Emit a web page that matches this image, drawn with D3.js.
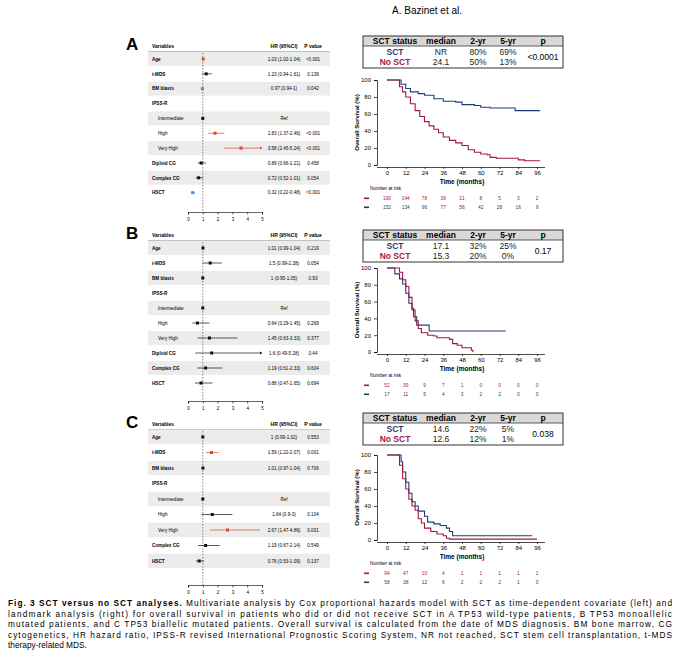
<!DOCTYPE html><html><head><meta charset="utf-8"><script src="https://cdn.jsdelivr.net/npm/d3@7"></script>
<style>body{margin:0;background:#fff}text{font-family:"Liberation Sans",Arial,sans-serif}</style></head><body><svg id="c" width="680" height="662"></svg>
<script>
const ticksHR=[0,1,2,3,4,5];
const ticksT=[0,12,24,36,48,60,72,84,96];
const ticksS=[0,20,40,60,80,100];
// forest: [label, indent, hr, lo, hi, text, p, color]
const forestA=[["Age",0,1.03,1.02,1.04,"1.03 (1.02-1.04)","<0.001","r"],["t-MDS",0,1.23,0.94,1.61,"1.23 (0.94-1.61)","0.139","k"],["BM blasts",0,0.97,0.94,1,"0.97 (0.94-1)","0.042","b"],["IPSS-R",0,null,null,null,"","",""],["Intermediate",1,1,1,1,"Ref","","k"],["High",1,1.83,1.37,2.46,"1.83 (1.37-2.46)","<0.001","r"],["Very High",1,3.58,2.45,5.24,"3.58 (2.45-5.24)","<0.001","r"],["Diploid CG",0,0.89,0.66,1.21,"0.89 (0.66-1.21)","0.458","k"],["Complex CG",0,0.72,0.52,1.01,"0.72 (0.52-1.01)","0.054","k"],["HSCT",0,0.32,0.22,0.48,"0.32 (0.22-0.48)","<0.001","b"]];
const forestB=[["Age",0,1.01,0.99,1.04,"1.01 (0.99-1.04)","0.219","k"],["t-MDS",0,1.5,0.99,2.28,"1.5 (0.99-2.28)","0.054","k"],["BM blasts",0,1,0.95,1.05,"1 (0.95-1.05)","0.93","k"],["IPSS-R",0,null,null,null,"","",""],["Intermediate",1,1,1,1,"Ref","","k"],["High",1,0.64,0.29,1.45,"0.64 (0.29-1.45)","0.269","k"],["Very High",1,1.45,0.63,3.33,"1.45 (0.63-3.33)","0.377","k"],["Diploid CG",0,1.6,0.49,5.28,"1.6 (0.49-5.28)","0.44","k"],["Complex CG",0,1.19,0.61,2.33,"1.19 (0.61-2.33)","0.604","k"],["HSCT",0,0.88,0.47,1.65,"0.88 (0.47-1.65)","0.694","k"]];
const forestC=[["Age",0,1,0.99,1.02,"1 (0.99-1.02)","0.553","k"],["t-MDS",0,1.59,1.22,2.07,"1.59 (1.22-2.07)","0.001","r"],["BM blasts",0,1.01,0.97,1.04,"1.01 (0.97-1.04)","0.706","k"],["IPSS-R",0,null,null,null,"","",""],["Intermediate",1,1,1,1,"Ref","","k"],["High",1,1.64,0.9,3,"1.64 (0.9-3)","0.104","k"],["Very High",1,2.67,1.47,4.86,"2.67 (1.47-4.86)","0.001","r"],["Complex CG",0,1.19,0.67,2.14,"1.19 (0.67-2.14)","0.549","k"],["HSCT",0,0.76,0.53,1.09,"0.76 (0.53-1.09)","0.137","k"]];
// KM: [time, survival%]
const kmA_sct=[[0,100],[7,100],[9,95],[12,90],[15,86],[20,84],[24,82],[30,78],[36,75],[44,74],[48,71],[56,70],[60,68],[66,67],[80,67],[82,64],[98,64]];
const kmA_no=[[0,100],[6,100],[8,92],[10,86],[12,80],[15,72],[18,64],[21,57],[24,51],[27,46],[30,42],[33,38],[36,33],[40,29],[44,26],[48,23],[52,18],[56,15],[60,13],[64,12],[66,9],[70,8],[80,8],[84,6],[88,5],[98,5]];
const kmB_sct=[[0,100],[3,100],[5,93],[8,87],[10,81],[12,70],[14,58],[16,52],[17,42],[19,32],[26,32],[27,25],[76,25]];
const kmB_no=[[0,100],[6,100],[8,95],[10,86],[12,78],[14,65],[16,50],[18,37],[20,28],[22,23],[26,20],[30,19],[32,17],[40,15],[42,10],[45,8],[48,5],[52,5],[54,2],[55,0]];
const kmC_sct=[[0,100],[7,100],[9,92],[10,80],[12,68],[14,55],[16,45],[18,40],[20,34],[24,28],[26,21],[30,19],[34,17],[38,14],[40,10],[42,5],[93,5]];
const kmC_no=[[0,100],[7,100],[8,88],[10,72],[12,60],[14,48],[16,40],[18,35],[20,25],[22,20],[24,14],[28,10],[32,7],[36,5],[38,2],[40,1],[96,1]];
const riskA_no=[190,144,78,39,21,8,5,3,2], riskA_sct=[152,134,96,77,56,42,28,16,9];
const riskB_no=[52,39,9,7,1,0,0,0,0], riskB_sct=[17,11,5,4,3,2,2,0,0];
const riskC_no=[94,47,10,4,1,1,1,1,1], riskC_sct=[58,38,12,6,2,2,2,1,0];
const tableA=[["SCT","NR","80%","69%"],["No SCT","24.1","50%","13%"]], pA="<0.0001";
const tableB=[["SCT","17.1","32%","25%"],["No SCT","15.3","20%","0%"]], pB="0.17";
const tableC=[["SCT","14.6","22%","5%"],["No SCT","12.6","12%","1%"]], pC="0.038";
const caption=["SCT versus no SCT analyses. Multivariate analysis by Cox proportional hazards model with SCT as time-dependent covariate (left) and","landmark analysis (right) for overall survival in patients who did or did not receive SCT in A TP53 wild-type patients, B TP53 monoallelic","mutated patients, and C TP53 biallelic mutated patients. Overall survival is calculated from the date of MDS diagnosis. BM bone marrow, CG","cytogenetics, HR hazard ratio, IPSS-R revised International Prognostic Scoring System, NR not reached, SCT stem cell transplantation, t-MDS","therapy-related MDS."];

const SCT="#1f3c78", NO="#a3173f";
const col={r:"#e0452b",b:"#4a8fd0",k:"#111"};
const svg=d3.select("#c");
svg.append("text").attr("x",392).attr("y",14).attr("font-size",10).text("A. Bazinet et al.");

function forest(letter,data,top,step,axisY){
  const g=svg.append("g");
  g.append("text").attr("x",126).attr("y",top+5).attr("font-size",17).attr("font-weight","bold").text(letter);
  const x=d3.scaleLinear().domain([0,5]).range([188,262]);
  g.append("text").attr("x",152).attr("y",top+3).attr("font-size",5).attr("font-weight","bold").text("Variables");
  g.append("text").attr("x",284).attr("y",top+3).attr("font-size",5).attr("font-weight","bold").attr("text-anchor","middle").text("HR (95%CI)");
  g.append("text").attr("x",313).attr("y",top+3).attr("font-size",5).attr("font-weight","bold").attr("text-anchor","middle").text("P value");
  g.append("line").attr("x1",148).attr("x2",330).attr("y1",top+7).attr("y2",top+7).attr("stroke","#666").attr("stroke-width",0.8);
  const y0=top+14;
  data.forEach((d,i)=>{
    const cy=y0+i*step;
    if(i%2==0) g.append("rect").attr("x",148).attr("y",cy-step/2+0.5).attr("width",182).attr("height",step-1).attr("fill","#ececec");
  });
  g.append("line").attr("x1",x(1)).attr("x2",x(1)).attr("y1",top+8).attr("y2",axisY).attr("stroke","#333").attr("stroke-width",0.6).attr("stroke-dasharray","1.5,1.5");
  data.forEach((d,i)=>{
    const cy=y0+i*step;
    g.append("text").attr("x",d[1]?158:152).attr("y",cy+1.7).attr("font-size",4.6).attr("font-weight",d[1]?"normal":"bold").text(d[0]);
    g.append("text").attr("x",284).attr("y",cy+1.7).attr("font-size",4.6).attr("text-anchor","middle").text(d[5]);
    g.append("text").attr("x",313).attr("y",cy+1.7).attr("font-size",4.6).attr("text-anchor","middle").text(d[6]);
    if(d[2]!=null){
      const c=col[d[7]];
      g.append("line").attr("x1",x(d[3])).attr("x2",x(Math.min(d[4],5))).attr("y1",cy).attr("y2",cy).attr("stroke",c).attr("stroke-width",0.7);
      if(d[4]>5) g.append("path").attr("d",`M${x(5)-2},${cy-1.5}L${x(5)},${cy}L${x(5)-2},${cy+1.5}Z`).attr("fill",c);
      g.append("rect").attr("x",x(d[2])-1.5).attr("y",cy-1.5).attr("width",3).attr("height",3).attr("fill",c);
    }
  });
  const ax=g.append("g").attr("transform",`translate(0,${axisY})`).call(d3.axisBottom(x).tickValues(ticksHR).tickFormat(d3.format("d")).tickSize(2.5));
  ax.selectAll("text").attr("font-size",4.5);ax.selectAll("line,path").attr("stroke-width",0.6);
}
forest("A",forestA,45,14.85,212);
forest("B",forestB,234,15,401);
forest("C",forestC,423,15.5,585);

function km(tbl,p,sct,no,rs,rn,top,plotTop,plotBot){
  const g=svg.append("g");
  const tx=363,tw=200;
  g.append("rect").attr("x",tx).attr("y",top).attr("width",tw).attr("height",10).attr("fill","#d9d9d9");
  g.append("rect").attr("x",tx).attr("y",top).attr("width",tw).attr("height",32).attr("fill","none").attr("stroke","#333").attr("stroke-width",1);
  g.append("line").attr("x1",tx).attr("x2",tx+tw).attr("y1",top+10).attr("y2",top+10).attr("stroke","#333").attr("stroke-width",0.8);
  const cx=[395,441,478,508,543];
  ["SCT status","median","2-yr","5-yr","p"].forEach((h,i)=>g.append("text").attr("x",cx[i]).attr("y",top+8).attr("font-size",8.5).attr("font-weight","bold").attr("text-anchor","middle").text(h));
  tbl.forEach((r,j)=>r.forEach((v,i)=>g.append("text").attr("x",cx[i]).attr("y",top+18.5+j*10).attr("font-size",8.5).attr("text-anchor","middle").attr("font-weight",i==0?"bold":"normal").attr("fill",i==0?(j==0?SCT:NO):"#222").text(v)));
  g.append("text").attr("x",cx[4]).attr("y",top+24).attr("font-size",8.5).attr("text-anchor","middle").text(p);
  const x=d3.scaleLinear().domain([0,96]).range([387,537]);
  const y=d3.scaleLinear().domain([0,100]).range([plotBot,plotTop]);
  const ya=g.append("g").attr("transform","translate(377,0)").call(d3.axisLeft(y).tickValues(ticksS).tickSize(3));
  const xa=g.append("g").attr("transform",`translate(0,${plotBot+2})`).call(d3.axisBottom(x).tickValues(ticksT).tickSize(2).tickPadding(2));
  [ya,xa].forEach(a=>{a.selectAll("text").attr("font-size",6);a.selectAll("path,line").attr("stroke-width",0.7);});
  xa.select("path").attr("d",`M377,0.5H545`);
  g.append("text").attr("transform",`translate(359,${(plotTop+plotBot)/2}) rotate(-90)`).attr("text-anchor","middle").attr("font-size",6).attr("font-weight","bold").text("Overall Survival (%)");
  g.append("text").attr("x",462).attr("y",plotBot+19).attr("text-anchor","middle").attr("font-size",6.5).attr("font-weight","bold").text("Time (months)");
  const line=d3.line().x(d=>x(d[0])).y(d=>y(d[1])).curve(d3.curveStepAfter);
  g.append("path").attr("d",line(sct)).attr("fill","none").attr("stroke",SCT).attr("stroke-width",1.1);
  g.append("path").attr("d",line(no)).attr("fill","none").attr("stroke",NO).attr("stroke-width",1.1);
  g.append("text").attr("x",370).attr("y",plotBot+25).attr("font-size",4.8).text("Number at risk");
  [[rn,NO,plotBot+35],[rs,SCT,plotBot+44]].forEach(([r,c,yy])=>{
    g.append("rect").attr("x",364).attr("y",yy-2.5).attr("width",5).attr("height",1.6).attr("fill",c);
    r.forEach((v,i)=>g.append("text").attr("x",x(ticksT[i])).attr("y",yy).attr("font-size",4.8).attr("fill",c).attr("text-anchor","middle").text(v));
  });
}
km(tableA,pA,kmA_sct,kmA_no,riskA_sct,riskA_no,36,80,165);
km(tableB,pB,kmB_sct,kmB_no,riskB_sct,riskB_no,230,268,352);
km(tableC,pC,kmC_sct,kmC_no,riskC_sct,riskC_no,413,455,540);

const cap=svg.append("g");
caption.forEach((l,i)=>{
  const t=cap.append("text").attr("x",8).attr("y",606+i*10.5).attr("font-size",8.3);
  if(i==0){t.append("tspan").attr("font-weight","bold").text("Fig. 3   SCT versus no SCT analyses. ");t.append("tspan").text(l.replace("SCT versus no SCT analyses. ",""));}
  else t.text(l);
  if(i<4) t.attr("textLength",664).attr("lengthAdjust","spacing");
});
</script></body></html>
